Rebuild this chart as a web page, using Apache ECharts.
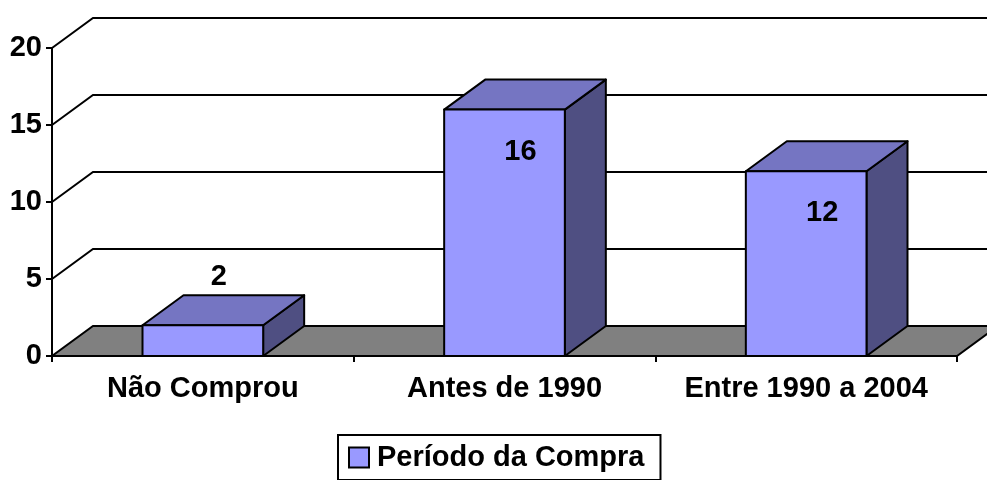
<!DOCTYPE html>
<html>
<head>
<meta charset="utf-8">
<script src="https://cdn.jsdelivr.net/npm/echarts@6/dist/echarts.min.js"></script>
<style>
  html, body { margin: 0; padding: 0; background: #fff; }
  #chart { width: 987px; height: 480px; }
</style>
</head>
<body>
<div id="chart"></div>
<script>
// dados
const categorias = ["Não Comprou", "Antes de 1990", "Entre 1990 a 2004"];
const valores = [2, 16, 12];
const yTicks = [0, 5, 10, 15, 20];
const serieNome = "Período da Compra";

const DX = 41, DY = 30; // profundidade 3D
const fonte = "bold 29px 'Liberation Sans', Arial, sans-serif";

const chartObj = echarts.init(document.getElementById("chart"));

function drawWall(params, api) {
  const cs = params.coordSys;
  const v = api.value(1);
  const y = api.coord([0, v])[1];
  const left = cs.x, right = cs.x + cs.width;
  const children = [];
  if (v === 0) {
    // piso cinza
    children.push({
      type: "polygon",
      shape: { points: [[left, y], [right, y], [right + DX, y - DY], [left + DX, y - DY]] },
      style: { fill: "#808080", stroke: "#000", lineWidth: 2 }
    });
  } else {
    children.push({
      type: "polyline",
      shape: { points: [[left, y], [left + DX, y - DY], [right + DX, y - DY]] },
      style: { fill: null, stroke: "#000", lineWidth: 2 }
    });
  }
  return { type: "group", children: children };
}

function drawBar(params, api) {
  const idx = api.value(0);
  const v = api.value(1);
  const top = api.coord([idx, v]);
  const base = api.coord([idx, 0]);
  const w = api.size([1, 0])[0] * 0.4;
  const x0 = top[0] - w / 2, x1 = top[0] + w / 2;
  const y0 = base[1], yv = top[1];
  const borda = { stroke: "#000", lineWidth: 2, lineJoin: "round" };
  // rotulo: dentro da face frontal se a barra for alta, senao acima
  const alta = (y0 - yv) > 60;
  const ly = alta ? yv + 42 : yv - DY - 18;
  return {
    type: "group",
    children: [
      {
        type: "polygon",
        shape: { points: [[x1, yv], [x1 + DX, yv - DY], [x1 + DX, y0 - DY], [x1, y0]] },
        style: Object.assign({ fill: "#4F4F82" }, borda)
      },
      {
        type: "polygon",
        shape: { points: [[x0, yv], [x0 + DX, yv - DY], [x1 + DX, yv - DY], [x1, yv]] },
        style: Object.assign({ fill: "#7575C2" }, borda)
      },
      {
        type: "rect",
        shape: { x: x0, y: yv, width: w, height: y0 - yv },
        style: Object.assign({ fill: "#9999FF" }, borda)
      },
      {
        type: "text",
        style: {
          text: String(v), x: top[0] + 16, y: ly,
          align: "center", verticalAlign: "middle", font: fonte, fill: "#000"
        }
      }
    ]
  };
}

const option = {
  animation: false,
  backgroundColor: "#fff",
  grid: { left: 52, right: 30, top: 48, bottom: 124, containLabel: false },
  legend: {
    data: [serieNome],
    left: 338,
    top: 435,
    padding: [8, 16, 8, 10],
    borderColor: "#000",
    borderWidth: 2,
    itemWidth: 20,
    itemHeight: 20,
    itemGap: 0,
    icon: "rect",
    itemStyle: { color: "#9999FF", borderColor: "#000", borderWidth: 2 },
    textStyle: { fontFamily: "'Liberation Sans', Arial", fontWeight: "bold", fontSize: 29, color: "#000", padding: [0, 0, 0, 3] }
  },
  xAxis: {
    type: "category",
    data: categorias,
    axisLine: { show: true, lineStyle: { color: "#000", width: 2 } },
    axisTick: { show: true, length: 6, lineStyle: { color: "#000", width: 2 } },
    axisLabel: { interval: 0, margin: 18, color: "#000", fontFamily: "'Liberation Sans', Arial", fontWeight: "bold", fontSize: 29 },
    splitLine: { show: false }
  },
  yAxis: {
    type: "value",
    min: 0,
    max: 20,
    interval: 5,
    axisLine: { show: true, lineStyle: { color: "#000", width: 2 } },
    axisTick: { show: true, length: 6, lineStyle: { color: "#000", width: 2 } },
    axisLabel: { margin: 10, color: "#000", fontFamily: "'Liberation Sans', Arial", fontWeight: "bold", fontSize: 29 },
    splitLine: { show: false }
  },
  series: [
    {
      name: "parede",
      type: "custom",
      renderItem: drawWall,
      data: yTicks.map(v => [0, v]),
      encode: { x: 0, y: 1 },
      z: 1,
      silent: true
    },
    {
      name: serieNome,
      type: "custom",
      renderItem: drawBar,
      itemStyle: { color: "#9999FF" },
      data: valores.map((v, i) => [i, v]),
      encode: { x: 0, y: 1 },
      z: 3
    }
  ]
};
chartObj.setOption(option);
window.addEventListener("resize", function () {
  chartObj.resize();
});
</script>
</body>
</html>
